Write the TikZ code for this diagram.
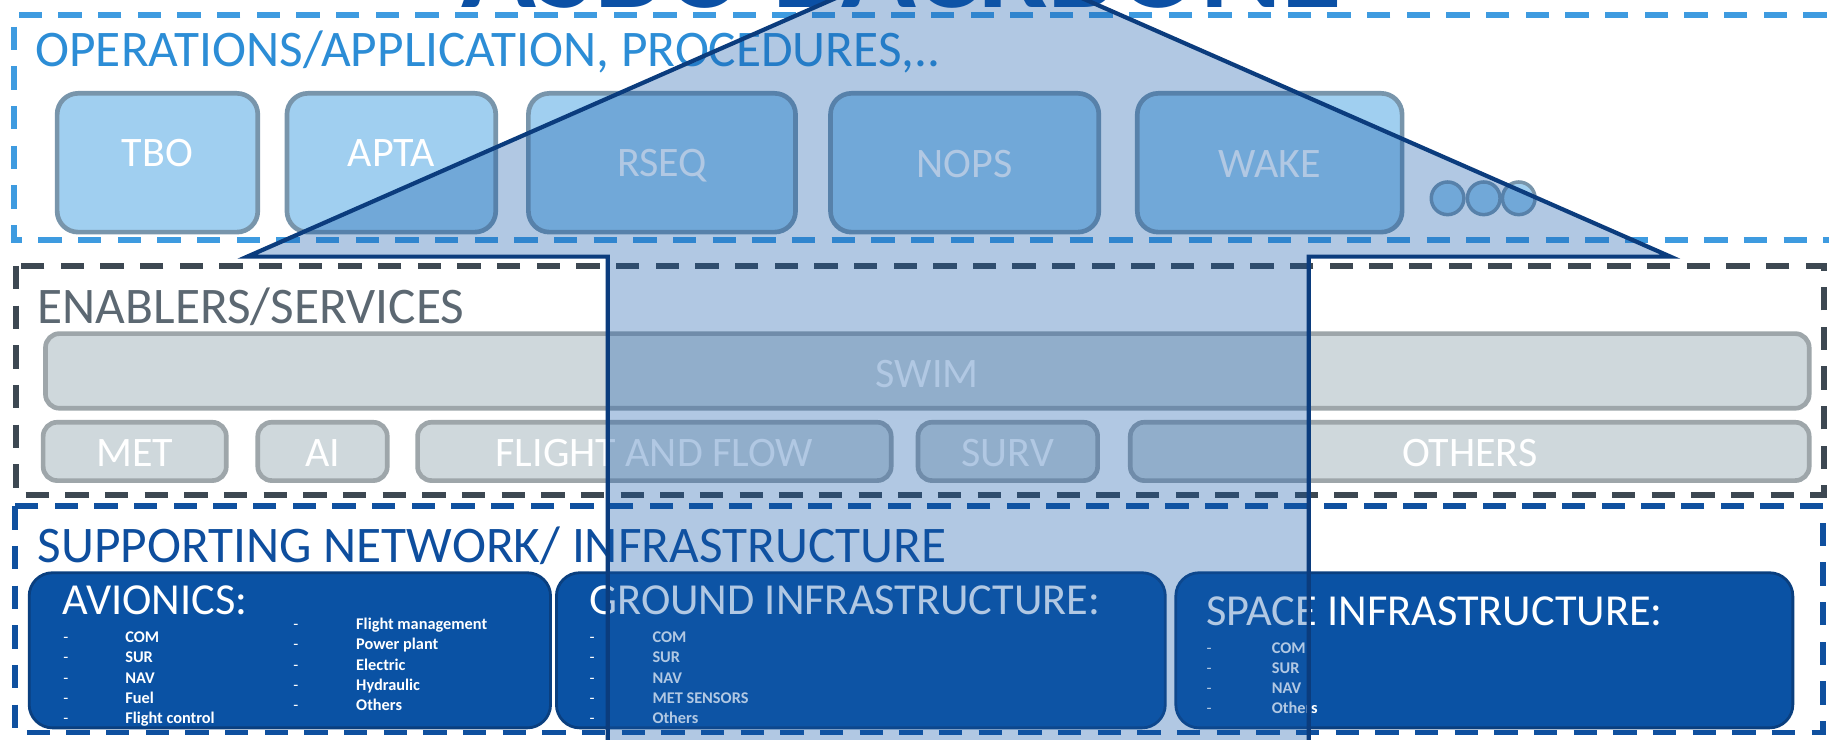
\documentclass[tikz,border=0pt]{standalone}
\usepackage{fontspec}
\setmainfont{Carlito}
\definecolor{opsdash}{HTML}{3E9BE0}
\definecolor{opslabel}{HTML}{2C8DD6}
\definecolor{opsfill}{HTML}{A0CFF0}
\definecolor{opsborder}{HTML}{7895AB}
\definecolor{endash}{HTML}{3D4852}
\definecolor{enlabel}{HTML}{5C6872}
\definecolor{enfill}{HTML}{CFD8DC}
\definecolor{enborder}{HTML}{9EA6AA}
\definecolor{supdash}{HTML}{0F509F}
\definecolor{suplabel}{HTML}{0E4E9E}
\definecolor{supfill}{HTML}{0A52A4}
\definecolor{supborder}{HTML}{0A3F7F}
\definecolor{titleblue}{HTML}{0B50A5}
\definecolor{arrowfill}{HTML}{145AAA}
\definecolor{arrowline}{HTML}{0B3C7D}
\begin{document}
\begin{tikzpicture}[x=0.5pt,y=-0.5pt,
  secdash/.style={line width=2.5pt, dash pattern=on 10pt off 7pt},
  opsbox/.style={draw=opsborder, fill=opsfill, line width=2pt, rounded corners=9pt, inner sep=0pt, minimum height=59.5pt},
  enbox/.style={draw=enborder, fill=enfill, line width=2pt, rounded corners=6pt, inner sep=0pt},
  supbox/.style={draw=supborder, fill=supfill, line width=1.2pt, rounded corners=10pt, inner sep=0pt, minimum height=66.5pt},
  dot/.style={circle, draw=opsborder, fill=opsfill, line width=1.5pt, minimum size=14pt, inner sep=0pt},
  boxtxt/.style={text=white, font=\fontsize{18}{20}\selectfont, anchor=base, inner sep=0pt},
  seclabel/.style={anchor=base west, inner sep=0pt, font=\fontsize{22}{25}\selectfont},
  suptitle/.style={anchor=base west, inner sep=0pt, text=white, font=\fontsize{19}{22}\selectfont},
  itemdash/.style={anchor=base west, inner sep=0pt, text=white, font=\fontsize{7}{8}\selectfont},
  itemtxt/.style={anchor=base west, inner sep=0pt, text=white, font=\bfseries\fontsize{7}{8}\selectfont}
]
\clip (0,0) rectangle (1568,634);
\fill[white] (0,0) rectangle (1568,634);

% title (cut by the top edge)
\node[anchor=base, text=titleblue, font=\bfseries\fontsize{53}{60}\selectfont, inner sep=0pt] (title) at (773,6) {ASBU BACKBONE};

% ---- operations section
\draw[secdash, opsdash] (1600,13) -- (12,13) -- (12,206) -- (1600,206);
\node[seclabel, text=opslabel] (opslbl) at (30,57) {OPERATIONS/APPLICATION, PROCEDURES,..};
\node[opsbox, minimum width=86pt] (tbo) at (135,139.5) {};
\node[opsbox, minimum width=89.5pt] (apta) at (335.5,139.5) {};
\node[opsbox, minimum width=114.5pt] (rseq) at (567.5,139.5) {};
\node[opsbox, minimum width=115pt] (nops) at (827,139.5) {};
\node[opsbox, minimum width=113.5pt] (wake) at (1088.5,139.5) {};
\node[boxtxt] (tbot) at (135,143) {TBO};
\node[boxtxt] (aptat) at (335.5,143) {APTA};
\node[boxtxt] (rseqt) at (567.5,151) {RSEQ};
\node[boxtxt] (nopst) at (827,152) {NOPS};
\node[boxtxt] (waket) at (1088.5,152) {WAKE};
\node[dot] (d1) at (1241,170) {};
\node[dot] (d2) at (1272,170) {};
\node[dot] (d3) at (1302,170) {};

% ---- enablers section
\draw[secdash, endash] (14,228) rectangle (1564,424);
\node[seclabel, text=enlabel] (enlbl) at (32,277) {ENABLERS/SERVICES};
\node[enbox, minimum width=756pt, minimum height=32pt] (swim) at (795,318) {};
\node[boxtxt] (swimt) at (795,332) {SWIM};
\node[enbox, minimum width=78.5pt, minimum height=25pt] (met) at (115.5,387) {};
\node[enbox, minimum width=55.5pt, minimum height=25pt] (ai) at (276.5,387) {};
\node[enbox, minimum width=203pt, minimum height=25pt] (ff) at (561,387) {};
\node[enbox, minimum width=77pt, minimum height=25pt] (surv) at (864,387) {};
\node[enbox, minimum width=291pt, minimum height=25pt] (oth) at (1260,387) {};
\node[boxtxt] (mett) at (115.5,400) {MET};
\node[boxtxt] (ait) at (276.5,400) {AI};
\node[boxtxt] (fft) at (561,400) {FLIGHT AND FLOW};
\node[boxtxt] (survt) at (864,400) {SURV};
\node[boxtxt] (otht) at (1260,400) {OTHERS};

% ---- supporting section
\draw[secdash, supdash] (13,434) rectangle (1563,628);
\node[seclabel, text=suplabel] (suplbl) at (32,482) {SUPPORTING NETWORK/ INFRASTRUCTURE};
\node[supbox, minimum width=223.5pt] (av) at (248.5,557.5) {};
\node[supbox, minimum width=261pt] (gr) at (738,557.5) {};
\node[supbox, minimum width=264.5pt] (sp) at (1272.5,557.5) {};
\node[suptitle] (avt) at (53,527) {AVIONICS:};
\node[suptitle] (grt) at (505,527) {GROUND INFRASTRUCTURE:};
\node[suptitle] (spt) at (1034,536) {SPACE INFRASTRUCTURE:};
\foreach \t [count=\i] in {COM,SUR,NAV,Fuel,Flight control} {
  \node[itemdash] (ad\i) at (54,{533.7+17.3*\i}) {-};
  \node[itemtxt] (ai\i) at (107,{533.7+17.3*\i}) {\t};
}
\foreach \t [count=\i] in {Flight management,Power plant,Electric,Hydraulic,Others} {
  \node[itemdash] (bd\i) at (251,{522.6+17.3*\i}) {-};
  \node[itemtxt] (bi\i) at (305,{522.6+17.3*\i}) {\t};
}
\foreach \t [count=\i] in {COM,SUR,NAV,MET SENSORS,Others} {
  \node[itemdash] (gd\i) at (505,{533.7+17.3*\i}) {-};
  \node[itemtxt] (gi\i) at (559,{533.7+17.3*\i}) {\t};
}
\foreach \t [count=\i] in {COM,SUR,NAV,Others} {
  \node[itemdash] (sd\i) at (1034,{542.7+17.3*\i}) {-};
  \node[itemtxt] (si\i) at (1090,{542.7+17.3*\i}) {\t};
}

% ---- big arrow overlay
\coordinate (aSL) at (521,660);
\coordinate (aBL) at (521,220);
\coordinate (aHL) at (212,220);
\coordinate (aTop) at (822,-48);
\coordinate (aHR) at (1432,220);
\coordinate (aBR) at (1122,220);
\coordinate (aSR) at (1122,660);
\fill[arrowfill, fill opacity=0.33] (aSL) -- (aBL) -- (aHL) -- (aTop) -- (aHR) -- (aBR) -- (aSR) -- cycle;
\draw[arrowline, line width=1.8pt, line join=miter] (aSL) -- (aBL) -- (aHL) -- (aTop) -- (aHR) -- (aBR) -- (aSR);
\end{tikzpicture}
\end{document}
